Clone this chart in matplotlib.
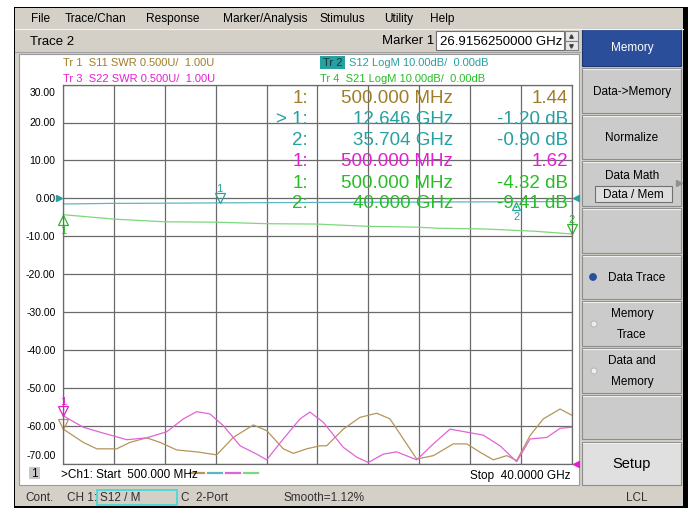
import numpy as np
import matplotlib
matplotlib.use("Agg")
import matplotlib.pyplot as plt
from matplotlib.patches import Rectangle, Circle
from matplotlib.transforms import offset_copy

plt.rcParams['font.family'] = ['Liberation Sans', 'DejaVu Sans']

W, H = 691, 510

# sweep, GHz
f_start, f_stop = 0.5, 40.0

# Tr 1  S11 SWR (tan), read in screen units of the dB grid
s11_f = [0.50, 2.05, 3.10, 4.65, 5.68, 6.98, 8.02, 9.31, 10.87, 12.42, 13.71, 15.27,
         16.31, 17.60, 18.38, 19.42, 20.45, 20.97, 22.26, 23.56, 24.86, 25.89, 26.93,
         27.97, 29.26, 30.81, 31.86, 32.89, 33.92, 34.97, 35.74, 36.78, 37.81, 39.11, 40.0]
s11_v = [-60.9, -64.4, -66.1, -66.1, -64.4, -63.2, -64.4, -66.4, -66.9, -67.7, -63.1, -59.8,
         -61.3, -66.1, -67.3, -66.1, -65.3, -65.3, -60.9, -57.8, -56.7, -58.2, -63.5,
         -68.8, -67.9, -64.8, -64.8, -67.0, -69.0, -67.9, -69.2, -62.6, -58.2, -55.6, -57.2]

# Tr 3  S22 SWR (magenta)
s22_f = [0.50, 2.05, 3.35, 5.43, 6.98, 8.54, 9.83, 10.87, 11.90, 12.94, 14.24, 15.53,
         16.31, 17.60, 18.90, 19.67, 20.71, 22.26, 23.31, 24.21, 25.37, 26.41, 27.97,
         29.26, 30.56, 31.86, 33.15, 34.44, 35.74, 36.78, 38.08, 39.11, 40.0]
s22_v = [-57.4, -60.4, -61.7, -63.7, -63.2, -61.6, -58.2, -56.3, -56.9, -60.0, -65.3, -67.5,
         -69.0, -63.5, -58.2, -56.4, -59.1, -65.7, -68.3, -69.7, -67.5, -66.9, -69.0,
         -64.8, -60.9, -61.7, -62.5, -65.3, -69.5, -63.5, -63.1, -60.7, -60.4]

# Tr 2  S12 LogM (teal)
s12_f = [0.5, 4.0, 8.0, 12.646, 16.0, 20.0, 24.0, 28.0, 32.0, 35.704, 40.0]
s12_v = [-1.50, -1.35, -1.30, -1.20, -1.15, -1.10, -1.05, -1.00, -0.95, -0.90, -0.85]

# Tr 4  S21 LogM (green)
s21_f = [0.5, 4.45, 8.4, 12.35, 16.3, 20.2, 24.2, 27.8, 29.7, 33.3, 37.2, 40.0]
s21_v = [-4.32, -5.5, -6.2, -6.3, -6.7, -6.8, -7.4, -7.6, -7.9, -8.1, -8.7, -9.41]

# marker readout table
mk_id = ["1:", "> 1:", "2:", "1:", "1:", "2:"]
mk_freq = ["500.000 MHz", "12.646 GHz", "35.704 GHz", "500.000 MHz", "500.000 MHz", "40.000 GHz"]
mk_val = ["1.44", "-1.20 dB", "-0.90 dB", "1.62", "-4.32 dB", "-9.41 dB"]

y_ticks = [30, 20, 10, 0, -10, -20, -30, -40, -50, -60, -70]

menu_items = ["File", "Trace/Chan", "Response", "Marker/Analysis", "Stimulus", "Utility", "Help"]

TAN, TEAL, MAG, GRN = '#a07d28', '#26a0a0', '#e61ed2', '#26bd26'
TAN_L, TEAL_L, MAG_L, GRN_L = '#b5955a', '#5cb8c0', '#e163d8', '#7cd87c'
GRAY = '#d4d0c8'

fig = plt.figure(figsize=(W / 100, H / 100), dpi=100)
fig.patch.set_facecolor('white')

# chrome drawn in pixel units
bg = fig.add_axes([0, 0, 1, 1], zorder=-1)
bg.set_xlim(0, W)
bg.set_ylim(H, 0)
bg.axis('off')


def rect(x0, y0, x1, y1, fc, ec='none', lw=0.8, ax=bg):
    ax.add_patch(Rectangle((x0, y0), x1 - x0, y1 - y0, facecolor=fc, edgecolor=ec, lw=lw))


def txt(x, y, s, size=9, color='black', ha='left', va='center', **kw):
    fig.text(x / W, 1 - y / H, s, fontsize=size, color=color, ha=ha, va=va, **kw)


rect(14, 8, 688, 509, 'black')
rect(15.5, 9, 683, 506.5, GRAY)
bg.plot([15.5, 683], [30, 30], color='#f4f4f4', lw=0.8)
bg.plot([15.5, 580], [53, 53], color='#a0a0a0', lw=0.8)

# menu bar
menu_x = [31, 65, 146, 223, 320, 384, 430]
for mx, m in zip(menu_x, menu_items):
    txt(mx, 19, m, size=8.6)

txt(30, 42, "Trace 2", size=9.5)
txt(382, 41, "Marker 1", size=9.5)
rect(436, 32, 564, 51, 'white', '#707070')
txt(440, 42, "26.9156250000 GHz", size=9.5)
rect(565, 32, 578, 41.5, '#e8e8e8', '#808080')
rect(565, 41.5, 578, 51, '#e8e8e8', '#808080')
bg.plot([571.5], [37], marker='^', ms=2.5, color='#404040')
bg.plot([571.5], [46.5], marker='v', ms=2.5, color='#404040')

# plot panel
rect(19, 55, 579, 486, 'white', '#9a9a9a')

# status bar
txt(25, 498, "Cont.", size=8.5, color='#303030')
txt(67, 498, "CH 1:", size=8.5, color='#303030')
rect(97, 491, 177, 506, GRAY, '#40d8d8', lw=1.2)
txt(100, 498, "S12 / M", size=8.5, color='#303030')
txt(181, 498, "C  2-Port", size=8.5, color='#303030')
txt(283, 498, "Smooth=1.12%", size=8.5, color='#303030')
txt(637, 498, "LCL", size=8.5, color='#303030', ha='center')

# softkeys
keys = [(30, 67, "Memory"), (69, 114, "Data->Memory"), (116, 160, "Normalize"),
        (162, 207, ""), (209, 254, ""), (256, 300, "Data Trace"),
        (302, 347, "Memory\nTrace"), (349, 394, "Data and\nMemory"),
        (396, 440, ""), (443, 486, "Setup")]
for i, (y0, y1, lab) in enumerate(keys):
    if i == 0:
        rect(582, y0, 681, y1, '#2b4e9b', '#1c3570')
        txt(632, (y0 + y1) / 2, lab, size=8.5, color='white', ha='center')
        continue
    fc = '#e0e0e0' if lab == "Setup" else '#cbcbcb'
    rect(582, y0, 681, y1, fc, '#8c8c8c')
    bg.plot([583, 680], [y0 + 1, y0 + 1], color='#f0f0f0', lw=0.8)
    if lab == "Setup":
        txt(632, (y0 + y1) / 2, lab, size=10.5, ha='center')
    elif lab in ("Data Trace", "Memory\nTrace", "Data and\nMemory"):
        txt(632 if '\n' in lab else 637, (y0 + y1) / 2, lab, size=8.5, ha='center',
            linespacing=1.9)
    elif lab:
        txt(632, (y0 + y1) / 2, lab, size=8.5, ha='center')
txt(632, 176, "Data Math", size=8.5, ha='center')
rect(595, 187, 672, 203, '#dedede', '#707070')
txt(633, 195, "Data / Mem", size=8.5, ha='center')
bg.plot([679], [184], marker='>', ms=4, color='#909090')
bg.add_patch(Circle((593, 278), 3.2, fc='#2b4e9b', ec='#2b4e9b'))
bg.add_patch(Circle((594, 325), 3.0, fc='#eeeeee', ec='#b0b0b0', lw=0.6))
bg.add_patch(Circle((594, 372), 3.0, fc='#eeeeee', ec='#b0b0b0', lw=0.6))

# trace header lines
hdr = 8
txt(63, 63, "Tr 1  S11 SWR 0.500U/  1.00U", size=hdr, color=TAN)
txt(63, 79, "Tr 3  S22 SWR 0.500U/  1.00U", size=hdr, color=MAG)
rect(320, 57, 345, 70, '#26a0a0')
txt(332.5, 63, "Tr 2", size=hdr, color='#183838', ha='center')
txt(349, 63, "S12 LogM 10.00dB/  0.00dB", size=hdr, color=TEAL)
txt(320, 79, "Tr 4  S21 LogM 10.00dB/  0.00dB", size=hdr, color=GRN)

# bottom line of panel
rect(29, 468, 40, 480, '#c8c8c8')
txt(34.5, 474, "1", size=8.5, ha='center')
txt(61, 475, ">Ch1: Start  500.000 MHz", size=8.5)
for x0, c in zip([190, 208, 226, 244], [TAN_L, TEAL_L, MAG_L, GRN_L]):
    bg.plot([x0, x0 + 14], [474, 474], color=c, lw=1.6)
txt(570, 476, "Stop  40.0000 GHz", size=8.5, ha='right')

# graticule
ax = fig.add_axes([63.3 / W, (H - 464.6) / H, 508.2 / W, 379 / H], zorder=1)
ax.set_facecolor('none')
ax.set_xlim(f_start, f_stop)
ax.set_ylim(-70, 30)
ax.set_xticks(np.linspace(f_start, f_stop, 11))
ax.set_yticks(y_ticks)
ax.tick_params(length=0, labelbottom=False, labelleft=False)
ax.grid(True, color='#6a6a6a', lw=0.9)
for sp in ax.spines.values():
    sp.set_color('#6a6a6a')
    sp.set_linewidth(0.9)

for v in y_ticks:
    ypix = 199.3 - v * 3.79
    if v == 30:
        ypix = 93
    if v == -70:
        ypix = 456
    txt(55.5, ypix, f"{v:.2f}", size=7.5, ha='right')

ax.plot(s11_f, s11_v, color=TAN_L, lw=0.9, clip_on=False)
ax.plot(s22_f, s22_v, color=MAG_L, lw=0.9, clip_on=False)
ax.plot(s21_f, s21_v, color=GRN_L, lw=0.9, clip_on=False)
ax.plot(s12_f, s12_v, color=TEAL_L, lw=0.9, clip_on=False)


def mark(f, v, color, above, label=None, ms=7):
    dy = ms / 2 if above else -ms / 2
    tr = offset_copy(ax.transData, fig=fig, x=0, y=dy, units='points')
    ax.plot([f], [v], marker='v' if above else '^', ms=ms, mfc='none', mec=color,
            mew=0.9, transform=tr, clip_on=False)
    if label:
        tl = offset_copy(ax.transData, fig=fig, x=0, y=(ms + 4) * (1 if above else -1),
                         units='points')
        ax.text(f, v, label, color=color, fontsize=8, ha='center', va='center',
                transform=tl, clip_on=False)


mark(s12_f[3], s12_v[3], TEAL, True, "1")
mark(s12_f[9], s12_v[9], TEAL, False, "2", ms=6)
mark(s21_f[0], s21_v[0], GRN, False, "1")
mark(s21_f[-1], s21_v[-1], GRN, True, "2")
mark(s11_f[0], s11_v[0], TAN_L, True)
mark(s22_f[0], s22_v[0], MAG, True, "1")

# reference arrows
tl = offset_copy(ax.transData, fig=fig, x=-3, y=0, units='points')
tr_ = offset_copy(ax.transData, fig=fig, x=3, y=0, units='points')
ax.plot([f_start], [0], marker='>', ms=5, color=TEAL, transform=tl, clip_on=False)
ax.plot([f_stop], [0], marker='<', ms=5, color=TEAL, transform=tr_, clip_on=False)
ax.plot([f_stop], [-70], marker='<', ms=5, color=MAG, transform=tr_, clip_on=False)

# marker readouts
row_y = [98.3, 119.3, 140.7, 161.7, 183.3, 204.0]
row_c = [TAN, TEAL, TEAL, MAG, GRN, GRN]
for y, c, a, b, s in zip(row_y, row_c, mk_id, mk_freq, mk_val):
    txt(308, y, a, size=13.5, color=c, ha='right')
    txt(453, y, b, size=13.5, color=c, ha='right')
    txt(568, y, s, size=13.5, color=c, ha='right')

fig.savefig("out.png", dpi=100)
